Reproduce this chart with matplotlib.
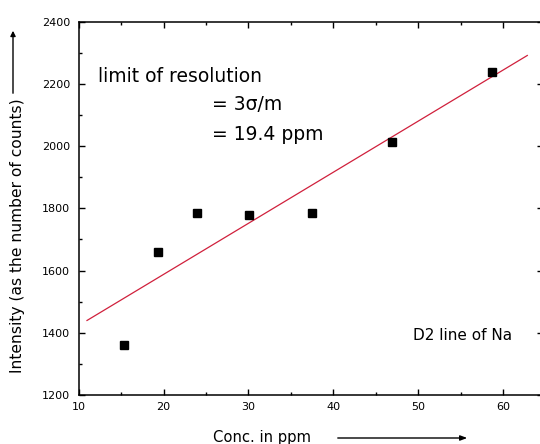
import numpy as np
import matplotlib
matplotlib.use("Agg")
import matplotlib.pyplot as plt
from matplotlib.ticker import MultipleLocator

# data
conc = [15.35, 19.3, 24.0, 30.05, 37.5, 46.9, 58.6]
intensity = [1361, 1661, 1784, 1779, 1784, 2014, 2238]
fit_range = [11.0, 62.8]

W, H = 540, 444
fig = plt.figure(figsize=(W / 100, H / 100), dpi=100)
plt.rcParams['font.family'] = ['DejaVu Sans']

def fx(px):
    return px / W

def fy(py):
    return 1 - py / H

left, right, top, bottom = 78.5, 543, 21.7, 395
ax = fig.add_axes([fx(left), fy(bottom), fx(right) - fx(left), fy(top) - fy(bottom)])

xmax = 10 + (right - left) / 8.5
ax.set_xlim(10, xmax)
ax.set_ylim(1200, 2400)

# linear fit through the data
coef = np.polyfit(conc, intensity, 1)
xf = np.array(fit_range)
ax.plot(xf, np.polyval(coef, xf), color='#d0203c', lw=0.9, zorder=2)
ax.plot(conc, intensity, ls='none', marker='s', ms=5.2, color='black', zorder=3)

ax.xaxis.set_major_locator(MultipleLocator(10))
ax.xaxis.set_minor_locator(MultipleLocator(5))
ax.yaxis.set_major_locator(MultipleLocator(200))
ax.yaxis.set_minor_locator(MultipleLocator(100))
ax.tick_params(which='both', direction='in', top=True, right=True, colors='black')
ax.tick_params(which='major', length=4, width=1, labelsize=8)
ax.tick_params(which='minor', length=2, width=1)
ax.tick_params(axis='y', which='major', pad=6)
ax.tick_params(axis='x', which='major', pad=5)
for s in ax.spines.values():
    s.set_linewidth(1.1)

ax.text(fx(98), fy(77), 'limit of resolution', transform=fig.transFigure,
        fontsize=13.5, va='center', ha='left')
ax.text(fx(212), fy(105), '= 3σ/m', transform=fig.transFigure,
        fontsize=13.5, va='center', ha='left')
ax.text(fx(212), fy(135), '= 19.4 ppm', transform=fig.transFigure,
        fontsize=13.5, va='center', ha='left')
ax.text(fx(413), fy(335), 'D2 line of Na', transform=fig.transFigure,
        fontsize=11, va='center', ha='left')

# axis labels with arrows
fig.text(fx(18), fy(236), 'Intensity (as the number of counts)', rotation=90,
         fontsize=11.2, va='center', ha='center')
fig.text(fx(262), fy(437), 'Conc. in ppm', fontsize=10.6, va='center', ha='center')
fig.add_artist(matplotlib.patches.FancyArrowPatch(
    (fx(13), fy(96)), (fx(13), fy(28)), transform=fig.transFigure,
    arrowstyle='-|>,head_length=3,head_width=1.5', color='black', lw=1))
fig.add_artist(matplotlib.patches.FancyArrowPatch(
    (fx(335), fy(438)), (fx(470), fy(438)), transform=fig.transFigure,
    arrowstyle='-|>,head_length=4,head_width=1.5', color='black', lw=1))

fig.savefig('out.png', dpi=100)
